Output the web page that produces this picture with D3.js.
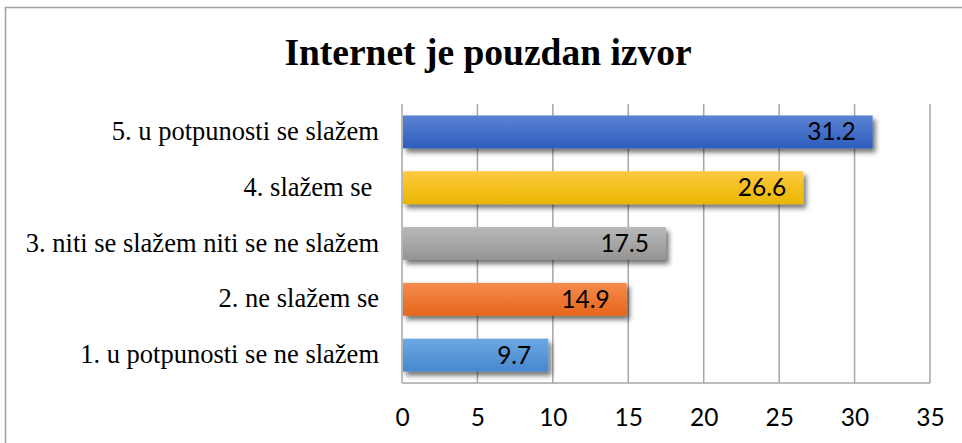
<!DOCTYPE html>
<html><head><meta charset="utf-8">
<script src="https://cdn.jsdelivr.net/npm/d3@7"></script>
<style>html,body{margin:0;padding:0;background:#fff;}svg{display:block;}</style>
</head><body>
<svg id="c" width="962" height="443"></svg>
<script>
const title = "Internet je pouzdan izvor";
const categories = ["5. u potpunosti se slažem", "4. slažem se ", "3. niti se slažem niti se ne slažem", "2. ne slažem se", "1. u potpunosti se ne slažem"];
const values = [31.2, 26.6, 17.5, 14.9, 9.7];
const tickValues = [0, 5, 10, 15, 20, 25, 30, 35];
const topColors = ["#5d83d2", "#ffc940", "#b9b9b9", "#f58b4c", "#6ca8e2"];
const bottomColors = ["#2d5dbd", "#e9b600", "#949494", "#e6661b", "#4787cf"];

const svg = d3.select("#c");
const m = {left: 402, right: 930, top: 104, bottom: 383};

const defs = svg.append("defs");
const f = defs.append("filter").attr("id","sh").attr("x","-10%").attr("y","-30%").attr("width","130%").attr("height","180%");
f.append("feGaussianBlur").attr("in","SourceAlpha").attr("stdDeviation",2.5);
f.append("feOffset").attr("dx",3).attr("dy",4).attr("result","ob");
f.append("feComponentTransfer").append("feFuncA").attr("type","linear").attr("slope",0.55);
const mg = f.append("feMerge"); mg.append("feMergeNode"); mg.append("feMergeNode").attr("in","SourceGraphic");
categories.forEach((c,i)=>{
  const g = defs.append("linearGradient").attr("id","g"+i).attr("x1",0).attr("y1",0).attr("x2",0).attr("y2",1);
  g.append("stop").attr("offset","0%").attr("stop-color",topColors[i]);
  g.append("stop").attr("offset","100%").attr("stop-color",bottomColors[i]);
});

// outer border
svg.append("rect").attr("x",5.5).attr("y",7.5).attr("width",1000).attr("height",1000)
  .attr("fill","#fff").attr("stroke","#a0a0a0").attr("stroke-width",1.5);

const x = d3.scaleLinear().domain([0,35]).range([m.left, m.right]);
const y = d3.scaleBand().domain(categories).range([m.top, m.bottom]).paddingInner(0.41).paddingOuter(0.205);

// gridlines
svg.append("g").selectAll("line").data(tickValues).join("line")
  .attr("x1",d=>x(d)).attr("x2",d=>x(d)).attr("y1",m.top).attr("y2",m.bottom)
  .attr("stroke","#a6a6a6").attr("stroke-width",1.5);
svg.append("line").attr("x1",m.left).attr("x2",m.right).attr("y1",m.bottom).attr("y2",m.bottom)
  .attr("stroke","#a6a6a6").attr("stroke-width",1.5);

// bars
svg.append("g").selectAll("rect").data(values).join("rect")
  .attr("x",x(0)+1).attr("y",(d,i)=>y(categories[i]))
  .attr("width",d=>x(d)-x(0)-1).attr("height",y.bandwidth())
  .attr("fill",(d,i)=>`url(#g${i})`).attr("filter","url(#sh)");

// value labels
svg.append("g").selectAll("text").data(values).join("text")
  .attr("x",d=>x(d)-17).attr("y",(d,i)=>y(categories[i])+y.bandwidth()/2+8.5)
  .attr("text-anchor","end").attr("font-family","Lato, sans-serif").attr("font-size",24.5)
  .attr("fill","#000").text(d=>d.toFixed(1));

// category labels
svg.append("g").selectAll("text").data(categories).join("text")
  .attr("x",379).attr("y",d=>y(d)+y.bandwidth()/2+8)
  .attr("text-anchor","end").attr("font-family","'Liberation Serif', 'Times New Roman', serif")
  .attr("font-size",26.5).attr("fill","#000").style("white-space","pre").text(d=>d);

// x axis tick labels
const ax = d3.axisBottom(x).tickValues(tickValues).tickSize(0).tickPadding(0).tickFormat(d3.format("d"));
const axg = svg.append("g").attr("transform",`translate(0,${m.bottom})`).call(ax);
axg.select(".domain").remove();
axg.selectAll("text").attr("y",43).attr("dy",0).attr("font-family","Lato, sans-serif").attr("font-size",24.5).attr("fill","#000");

// title
svg.append("text").attr("x",488).attr("y",65).attr("text-anchor","middle")
  .attr("font-family","'Liberation Serif', 'Times New Roman', serif").attr("font-weight","bold")
  .attr("font-size",37.5).attr("fill","#000").text(title);
</script>
</body></html>
